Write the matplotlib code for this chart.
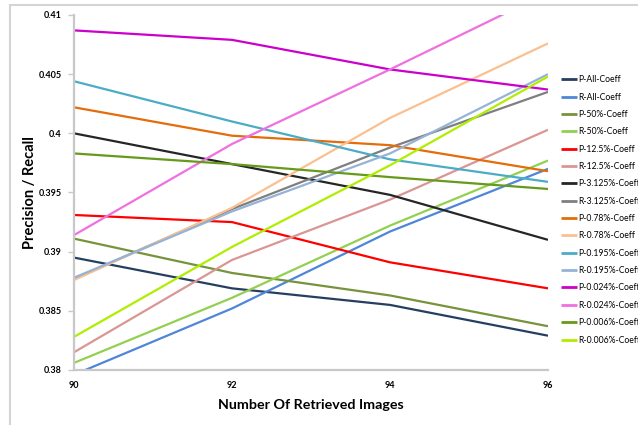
import matplotlib
matplotlib.use("Agg")
import matplotlib.pyplot as plt
from matplotlib.patches import Rectangle

# retrieved image counts on the x axis
retrieved = [90, 92, 94, 96]

# precision / recall for each coefficient subset
p_all = [0.3895, 0.3869, 0.3855, 0.3829]
r_all = [0.3796, 0.3852, 0.3917, 0.3970]
p_50 = [0.3911, 0.3882, 0.3863, 0.3837]
r_50 = [0.3806, 0.3861, 0.3922, 0.3977]
p_12_5 = [0.3931, 0.3925, 0.3891, 0.3869]
r_12_5 = [0.3815, 0.3893, 0.3944, 0.4003]
p_3_125 = [0.4000, 0.3974, 0.3948, 0.3910]
r_3_125 = [0.3877, 0.3936, 0.3988, 0.4035]
p_0_78 = [0.4022, 0.3998, 0.3990, 0.3968]
r_0_78 = [0.3876, 0.3937, 0.4013, 0.4076]
p_0_195 = [0.4044, 0.4010, 0.3978, 0.3959]
r_0_195 = [0.3878, 0.3934, 0.3983, 0.4050]
p_0_024 = [0.4087, 0.4079, 0.4054, 0.4037]
r_0_024 = [0.3914, 0.3991, 0.4054, 0.4119]
p_0_006 = [0.3983, 0.3974, 0.3963, 0.3953]
r_0_006 = [0.3828, 0.3904, 0.3973, 0.4048]

series = [
    ("P-All-Coeff", p_all, "#243f60"),
    ("R-All-Coeff", r_all, "#4f86d9"),
    ("P-50%-Coeff", p_50, "#77933c"),
    ("R-50%-Coeff", r_50, "#92d050"),
    ("P-12.5%-Coeff", p_12_5, "#ff0000"),
    ("R-12.5%-Coeff", r_12_5, "#d99694"),
    ("P-3.125%-Coeff", p_3_125, "#262626"),
    ("R-3.125%-Coeff", r_3_125, "#7f7f7f"),
    ("P-0.78%-Coeff", p_0_78, "#e46c0a"),
    ("R-0.78%-Coeff", r_0_78, "#fac090"),
    ("P-0.195%-Coeff", p_0_195, "#4bacc6"),
    ("R-0.195%-Coeff", r_0_195, "#95b3d7"),
    ("P-0.024%-Coeff", p_0_024, "#cc00cc"),
    ("R-0.024%-Coeff", r_0_024, "#f070e0"),
    ("P-0.006%-Coeff", p_0_006, "#669a1a"),
    ("R-0.006%-Coeff", r_0_006, "#b0ee00"),
]

plt.rcParams["font.family"] = ["Lato", "DejaVu Sans"]

fig = plt.figure(figsize=(6.38, 4.25), dpi=100)
ax = fig.add_axes([74 / 638, 1 - 370 / 425, 474 / 638, 355 / 425])

# chart area frame
fig.patches.append(Rectangle((10 / 638, -0.1), 1.2, 1 - 5 / 425 + 0.1,
                             transform=fig.transFigure, fill=False,
                             edgecolor="#d4d4d4", linewidth=1.5, zorder=0))

for name, vals, color in series:
    ax.plot(retrieved, vals, color=color, linewidth=1.6, label=name,
            solid_capstyle="butt")

ax.set_xlim(90, 96)
ax.set_ylim(0.38, 0.41)
ax.set_xticks(retrieved)
ax.set_xticklabels([str(v) for v in retrieved])
yt = [0.38, 0.385, 0.39, 0.395, 0.40, 0.405, 0.41]
ax.set_yticks(yt)
ax.set_yticklabels(["0.38", "0.385", "0.39", "0.395", "0.4", "0.405", "0.41"])

for side in ["top", "right"]:
    ax.spines[side].set_visible(False)
for side in ["left", "bottom"]:
    ax.spines[side].set_color("#c8c8c8")
    ax.spines[side].set_linewidth(1.6)

ax.tick_params(axis="y", length=4, width=1, color="#c8c8c8", pad=5,
               labelsize=6.5)
ax.tick_params(axis="x", length=0, pad=8, labelsize=6.5)
for lbl in ax.get_xticklabels() + ax.get_yticklabels():
    lbl.set_fontweight("bold")

ax.set_ylabel("Precision / Recall", fontsize=10.5, fontweight="bold")
ax.yaxis.set_label_coords(-0.093, 0.5)
ax.set_xlabel("Number Of Retrieved Images", fontsize=10.3, fontweight="bold")
ax.xaxis.set_label_coords(0.5, -0.099)
ax.xaxis.label.set_va("center")
ax.yaxis.label.set_va("center")

leg = ax.legend(loc="upper left", bbox_to_anchor=(1.02, 0.84), frameon=False,
                fontsize=6.2, handlelength=1.9, handletextpad=0.15,
                labelspacing=0.97, borderaxespad=0)
for line in leg.get_lines():
    line.set_linewidth(2)

fig.savefig("out.png", dpi=100)
